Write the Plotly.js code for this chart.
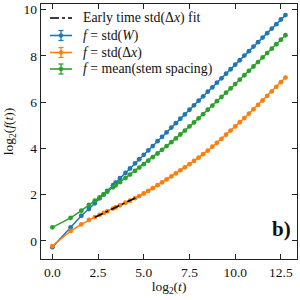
<!DOCTYPE html>
<html><head><meta charset="utf-8">
<script src="https://cdn.plot.ly/plotly-3.0.1.min.js"></script>
<style>html,body{margin:0;padding:0;background:#fff}#c{width:300px;height:300px}</style>
</head><body><div id="c"></div>
<script>
const logT = [0,1,1.585,2,2.322,2.585,2.807,3,3.322,3.459,3.700,4,4.248,4.524,4.755,5,5.248,5.492,5.755,6,6.248,6.508,6.755,7,7.248,7.5,7.748,8,8.248,8.5,8.751,9,9.25,9.5,9.75,10,10.25,10.5,10.75,11,11.25,11.5,11.75,12,12.25,12.5,12.75];
const stdW = [-0.27,0.59,1.09,1.38,1.63,1.84,2.01,2.16,2.41,2.52,2.71,2.94,3.13,3.35,3.53,3.72,3.91,4.10,4.31,4.50,4.69,4.90,5.09,5.28,5.47,5.67,5.86,6.06,6.25,6.45,6.64,6.84,7.03,7.23,7.42,7.62,7.81,8.01,8.20,8.40,8.59,8.79,8.98,9.18,9.37,9.57,9.76];
const stdDx = [-0.22,0.43,0.72,0.91,1.03,1.13,1.21,1.28,1.40,1.45,1.54,1.65,1.74,1.85,1.94,2.05,2.16,2.28,2.41,2.53,2.66,2.79,2.92,3.05,3.18,3.32,3.46,3.60,3.75,3.90,4.07,4.24,4.41,4.59,4.77,4.95,5.13,5.31,5.50,5.69,5.88,6.07,6.27,6.46,6.66,6.86,7.06];
const meanStem = [0.59,1.00,1.31,1.56,1.74,1.88,2.01,2.13,2.32,2.40,2.54,2.72,2.87,3.03,3.17,3.32,3.47,3.62,3.78,3.94,4.10,4.27,4.43,4.60,4.77,4.95,5.12,5.30,5.48,5.67,5.85,6.04,6.22,6.41,6.59,6.78,6.97,7.16,7.35,7.54,7.73,7.93,8.12,8.31,8.50,8.70,8.89];
const fitX = [2.32, 4.70];
const fitY = [1.02, 1.92];
const xTicks = [0, 2.5, 5, 7.5, 10, 12.5];
const xTickText = ["0.0","2.5","5.0","7.5","10.0","12.5"];
const yTicks = [0, 2, 4, 6, 8, 10];
const names = ["Early time std(Δ<i>x</i>) fit", "<i>f</i> = std(<i>W</i>)", "<i>f</i> = std(Δ<i>x</i>)", "<i>f</i> = mean(stem spacing)"];
const colors = ['#000000', '#1f77b4', '#ff7f0e', '#2ca02c'];

const F = "Liberation Serif, DejaVu Serif, serif";
function series(y, color, name){
  return {x: logT, y: y, type:'scatter', mode:'lines+markers', name:name,
    line:{color:color, width:1.5}, marker:{color:color, size:4.8}};
}
const traces = [
  series(stdW, colors[1], names[1]),
  series(stdDx, colors[2], names[2]),
  series(meanStem, colors[3], names[3]),
  {x: fitX, y: fitY, type:'scatter', mode:'lines', name: names[0],
   line:{color:'#000', width:1.6, dash:'dashdot'}}
];

// manual legend (plot area: x 41..297 px, y 4..259 px)
const PL = 41, PW = 256, PB = 259, PH = 255;
const px = v => (v - PL) / PW, py = v => (PB - v) / PH;
const rows = [18, 35.5, 52.5, 69];
const shapes = [], annotations = [];
rows.forEach((r, i) => {
  const c = colors[i];
  shapes.push({type:'line', xref:'paper', yref:'paper', x0:px(50), x1:px(72), y0:py(r), y1:py(r),
    line:{color:c, width:1.6, dash: i === 0 ? 'dashdot' : 'solid'}});
  if (i > 0) {
    shapes.push({type:'line', xref:'paper', yref:'paper', x0:px(61), x1:px(61), y0:py(r-5), y1:py(r+5), line:{color:c, width:1.3}});
    shapes.push({type:'line', xref:'paper', yref:'paper', x0:px(58.5), x1:px(63.5), y0:py(r-5), y1:py(r-5), line:{color:c, width:1.3}});
    shapes.push({type:'line', xref:'paper', yref:'paper', x0:px(58.5), x1:px(63.5), y0:py(r+5), y1:py(r+5), line:{color:c, width:1.3}});
    shapes.push({type:'circle', xref:'paper', yref:'paper', x0:px(58.8), x1:px(63.2), y0:py(r-2.2), y1:py(r+2.2),
      fillcolor:c, line:{color:c, width:0}});
  }
  annotations.push({xref:'paper', yref:'paper', x:px(81), y:py(r), xanchor:'left', yanchor:'middle',
    text:names[i], showarrow:false, font:{family:F, size:13.8, color:'#111'}});
});
annotations.push({xref:'paper', yref:'paper', x:px(293), y:py(229), xanchor:'right', yanchor:'middle',
  text:'<b>b)</b>', showarrow:false, font:{family:F, size:21, color:'#111'}});

const axBase = {showline:true, linecolor:'#222', linewidth:1.3, mirror:'ticks', ticks:'inside',
  ticklen:5, tickwidth:1, tickcolor:'#222', showgrid:false, zeroline:false,
  tickfont:{family:F, size:13.5, color:'#111'}};
const layout = {
  width:300, height:300, margin:{l:41, r:3, t:4, b:41},
  paper_bgcolor:'#fff', plot_bgcolor:'#fff', showlegend:false,
  xaxis: Object.assign({}, axBase, {range:[-0.62, 13.38], tickvals:xTicks, ticktext:xTickText,
    title:{text:'log<sub>2</sub>(<i>t</i>)', font:{family:F, size:13.5, color:'#111'}, standoff:2}}),
  yaxis: Object.assign({}, axBase, {range:[-0.78, 10.24], tickvals:yTicks,
    title:{text:'log<sub>2</sub>(<i>f</i>(<i>t</i>))', font:{family:F, size:13.5, color:'#111'}, standoff:6}}),
  shapes: shapes,
  annotations: annotations
};
Plotly.newPlot('c', traces, layout, {staticPlot:true, displayModeBar:false});
</script></body></html>
